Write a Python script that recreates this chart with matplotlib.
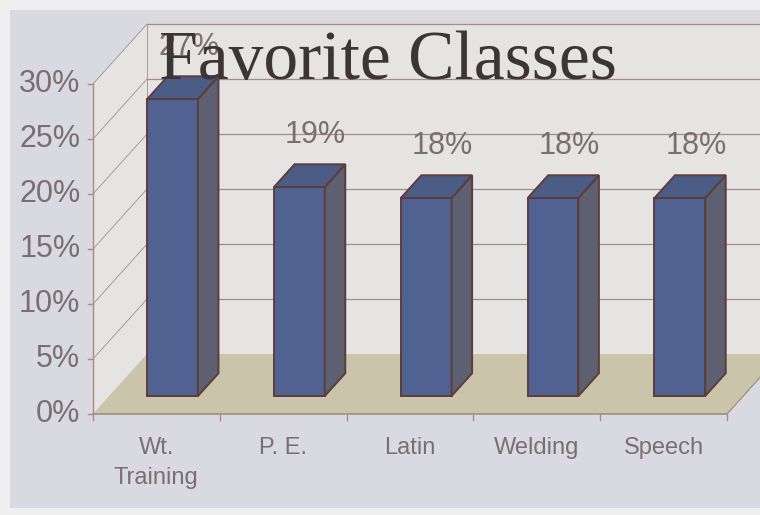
import matplotlib.pyplot as plt
from matplotlib.patches import Polygon, Rectangle

classes = ["Wt.\nTraining", "P. E.", "Latin", "Welding", "Speech"]
shares = [27, 19, 18, 18, 18]
share_labels = ["27%", "19%", "18%", "18%", "18%"]
y_ticks = [0, 5, 10, 15, 20, 25, 30]

# oblique depth of the fake 3D box (x in category units, y in percent)
DX, DY = 0.426, 5.45
F0, F1 = 0.30, 0.68   # front / back of the bars as a fraction of the depth
BW = 0.4

wall_c = "#e6e4e3"
floor_c = "#c9c4aa"
grid_c = "#a48c89"
edge_c = "#5e3c3c"
text_c = "#7a6e72"

fig = plt.figure(figsize=(7.6, 5.15), dpi=100, facecolor="#efefef")
ax = fig.add_axes([0, 0, 1, 1])
ax.set_xlim(-0.733, 5.26)
ax.set_ylim(-9.18, 37.64)
ax.axis("off")
ax.patch.set_alpha(0)

# chart area inside the light page margin
ax.add_patch(Rectangle((10 / 760, 7 / 515), 750 / 760, 498 / 515,
                       transform=ax.transAxes, facecolor="#d9dae0",
                       edgecolor="none", zorder=0))

n = len(classes)
top = y_ticks[-1]

# walls and floor
ax.add_patch(Rectangle((DX, DY), n, top, facecolor=wall_c, edgecolor="none", zorder=1))
ax.add_patch(Polygon([(0, 0), (DX, DY), (DX, top + DY), (0, top)],
                     facecolor=wall_c, edgecolor="none", zorder=1))
ax.add_patch(Polygon([(0, 0), (n, 0), (n + DX, DY), (DX, DY)],
                     facecolor=floor_c, edgecolor="none", zorder=2))
ax.plot([n, n + DX], [0, DY], color=grid_c, lw=0.9, zorder=2)
ax.plot([DX, DX], [DY, top + DY], color=grid_c, lw=0.6, zorder=2)

# gridlines on back and side walls
for t in y_ticks[1:]:
    ax.plot([DX, n + DX], [t + DY, t + DY], color=grid_c, lw=0.9, zorder=2)
    ax.plot([0, DX], [t, t + DY], color=grid_c, lw=0.6, zorder=2)

# axes lines and ticks
ax.plot([0, 0], [0, top], color=grid_c, lw=1.0, zorder=3)
ax.plot([0, n], [0, 0], color=grid_c, lw=1.2, zorder=3)
for t in y_ticks:
    ax.plot([-0.04, 0], [t, t], color=grid_c, lw=1.0, zorder=3)
    ax.text(-0.10, t, f"{t}%", ha="right", va="center", fontsize=22,
            color=text_c, family="Liberation Sans", zorder=5)
for i in range(n + 1):
    ax.plot([i, i], [0, -0.5], color=grid_c, lw=1.0, zorder=3)

# bars: front face, then side and top in oblique projection
d = F1 - F0
for i, v in enumerate(shares):
    xl = i + 0.5 - BW / 2 + F0 * DX
    xr = xl + BW
    b = F0 * DY
    ax.bar(xl, v, width=BW, bottom=b, align="edge", color="#506291",
           edgecolor=edge_c, linewidth=1.4, zorder=4)
    ax.add_patch(Polygon([(xr, b), (xr, b + v), (xr + d * DX, b + v + d * DY),
                          (xr + d * DX, b + d * DY)],
                         facecolor="#5c6070", edgecolor=edge_c, linewidth=1.4, zorder=4))
    ax.add_patch(Polygon([(xl, b + v), (xr, b + v), (xr + d * DX, b + v + d * DY),
                          (xl + d * DX, b + v + d * DY)],
                         facecolor="#4b5c86", edgecolor=edge_c, linewidth=1.4, zorder=4))
    ax.text(i + 0.5 + 0.6 * DX, v + 6.4, share_labels[i], ha="center", va="center",
            fontsize=22, color=text_c, family="Liberation Sans", zorder=5)
    ax.text(i + 0.5, -2.1, classes[i], ha="center", va="top", fontsize=17,
            color=text_c, family="Liberation Sans", linespacing=1.45, zorder=5)

ax.text(2.33, 30.5, "Favorite Classes", ha="center", va="baseline", fontsize=50,
        color="#3b3535", family="Liberation Serif", zorder=6)

fig.savefig("out.png", dpi=100, facecolor=fig.get_facecolor())
